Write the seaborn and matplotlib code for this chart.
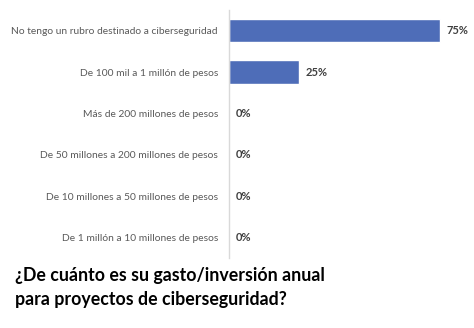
import matplotlib
matplotlib.use("Agg")
import matplotlib.pyplot as plt
import seaborn as sns
import pandas as pd

categories = [
    "No tengo un rubro destinado a ciberseguridad",
    "De 100 mil a 1 millón de pesos",
    "Más de 200 millones de pesos",
    "De 50 millones a 200 millones de pesos",
    "De 10 millones a 50 millones de pesos",
    "De 1 millón a 10 millones de pesos",
]
values = [75, 25, 0, 0, 0, 0]
value_labels = ["75%", "25%", "0%", "0%", "0%", "0%"]
title_lines = ["¿De cuánto es su gasto/inversión anual", "para proyectos de ciberseguridad?"]

sns.set_theme(style="white")
plt.rcParams["font.family"] = ["Lato", "DejaVu Sans"]

df = pd.DataFrame({"cat": categories, "val": values})

fig = plt.figure(figsize=(4.74, 3.28), dpi=100)
ax = fig.add_axes([229 / 474, 1 - 258 / 328, 245 / 474, 248 / 328])

sns.barplot(data=df, x="val", y="cat", order=categories, color="#4E6DB8",
            width=0.56, ax=ax, saturation=1)

ax.set_xlim(0, 87)
ax.set_ylim(5.5, -0.5)
ax.set_xlabel("")
ax.set_ylabel("")
ax.set_xticks([])
for s in ["top", "right", "bottom"]:
    ax.spines[s].set_visible(False)
ax.spines["left"].set_color("#D9D9D9")
ax.spines["left"].set_linewidth(1.0)
ax.tick_params(axis="y", length=0, pad=8, labelsize=7.4, labelcolor="#595959")

for i, (v, lab) in enumerate(zip(values, value_labels)):
    ax.annotate(lab, xy=(v, i), xytext=(4.5, 0), textcoords="offset points",
                ha="left", va="center", fontsize=8, fontweight="bold", color="#404040")

fig.text(15 / 474, 1 - 276 / 328, title_lines[0], ha="left", va="center",
         fontsize=12.8, fontweight="bold", color="#000000")
fig.text(15 / 474, 1 - 299 / 328, title_lines[1], ha="left", va="center",
         fontsize=12.8, fontweight="bold", color="#000000")

fig.savefig("out.png", dpi=100)
